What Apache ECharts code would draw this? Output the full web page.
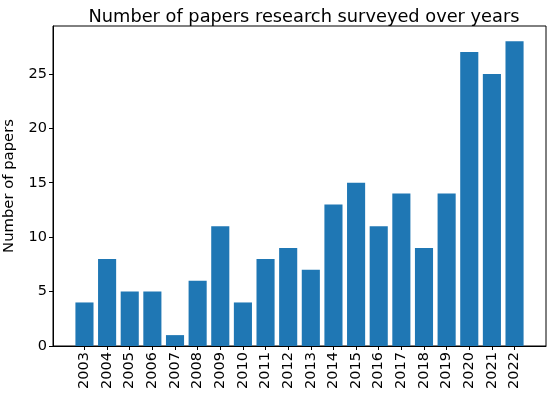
<!DOCTYPE html>
<html><head><meta charset="utf-8">
<script src="https://cdn.jsdelivr.net/npm/echarts@6/dist/echarts.min.js"></script>
<style>html,body{margin:0;padding:0;background:#fff}#c{width:550px;height:398px}</style>
</head><body><div id="c"></div>
<script>
const years = ['2003','2004','2005','2006','2007','2008','2009','2010','2011','2012','2013','2014','2015','2016','2017','2018','2019','2020','2021','2022'];
const papers = [4,8,5,5,1,6,11,4,8,9,7,13,15,11,14,9,14,27,25,28];
const yTicks = [0,5,10,15,20,25];

const chart = echarts.init(document.getElementById('c'), null, {renderer:'canvas'});
const font = 'DejaVu Sans';
const idx = years.map((_, i) => i);
chart.setOption({
  animation: false,
  title: {text: 'Number of papers research surveyed over years', left: 299, textAlign: 'center', top: 3,
    textStyle: {fontFamily: font, fontSize: 17.8, fontWeight: 'normal', color: '#000'}},
  grid: {left: 53, right: 4, top: 26, bottom: 52, containLabel: false, outerBoundsMode: 'none',
    show: true, borderColor: '#000', borderWidth: 1, backgroundColor: 'transparent'},
  xAxis: {type: 'value', min: -1.39, max: 20.39,
    axisLine: {show: true, onZero: false, lineStyle: {color: '#000'}},
    splitLine: {show: false},
    axisTick: {show: true, inside: false, customValues: idx, length: 4, lineStyle: {color: '#000'}},
    axisLabel: {customValues: idx, rotate: 90, fontFamily: font, fontSize: 14.5, color: '#000', margin: 6,
      formatter: v => years[Math.round(v)]}},
  yAxis: {type: 'value', min: 0, max: 29.4, name: 'Number of papers', nameLocation: 'middle', nameGap: 36,
    nameTextStyle: {fontFamily: font, fontSize: 14.8, color: '#000'},
    axisLine: {show: true, onZero: false, lineStyle: {color: '#000'}},
    splitLine: {show: false},
    axisTick: {show: true, inside: false, customValues: yTicks, length: 4, lineStyle: {color: '#000'}},
    axisLabel: {customValues: yTicks, fontFamily: font, fontSize: 14.5, color: '#000', margin: 6}},
  series: [{type: 'bar', data: papers.map((v, i) => [i, v]), barWidth: 18.1,
    itemStyle: {color: '#1f77b4'}}]
});
</script></body></html>
